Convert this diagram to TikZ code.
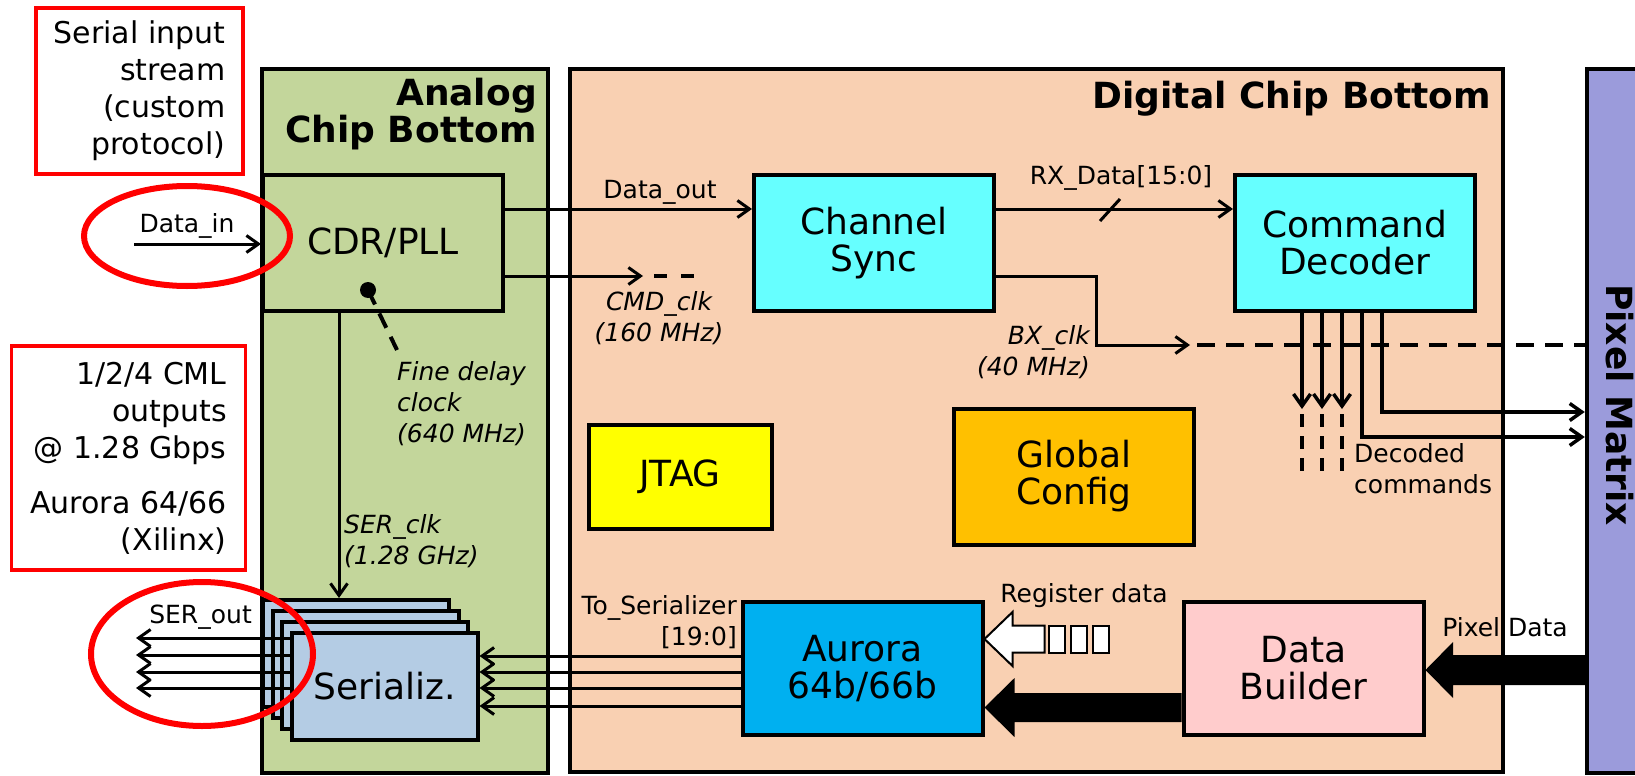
\documentclass[tikz,border=0pt]{standalone}
\usepackage{fontspec}
\setmainfont{DejaVu Sans}
\usepackage{xcolor}
\usetikzlibrary{arrows.meta,shapes.geometric}

\definecolor{analogbg}{HTML}{C3D69B}
\definecolor{digitalbg}{HTML}{F9D0B2}
\definecolor{pixelbg}{HTML}{9B9BDB}
\definecolor{syncfill}{HTML}{66FFFF}
\definecolor{jtagfill}{HTML}{FFFF00}
\definecolor{configfill}{HTML}{FFC000}
\definecolor{aurorafill}{HTML}{00B0F0}
\definecolor{builderfill}{HTML}{FFCCCC}
\definecolor{serfill}{HTML}{B4CCE4}
\definecolor{notered}{HTML}{FF0000}

\tikzset{
  chip/.style={rectangle, draw=black, line width=4.5pt, inner sep=0pt},
  chiptitle/.style={font=\fontsize{36}{37}\selectfont\bfseries, inner sep=0pt, align=right},
  blockbox/.style={rectangle, draw=black, line width=4pt, minimum width=240pt, minimum height=136pt, inner sep=2pt, align=center, font=\fontsize{36}{37}\selectfont},
  serbox/.style={rectangle, draw=black, line width=4pt, fill=serfill, minimum width=186pt, minimum height=107pt, inner sep=2pt, font=\fontsize{36}{37}\selectfont},
  note/.style={rectangle, draw=notered, line width=3.5pt, inner sep=0pt, align=right, font=\fontsize{30}{37}\selectfont},
  ring/.style={ellipse, draw=notered, line width=6pt, inner sep=0pt},
  sig/.style={line width=3pt, -{Straight Barb[length=12pt,width=17pt]}},
  wire/.style={line width=3pt},
  dashline/.style={line width=4pt, dash pattern=on 18pt off 11pt},
  shortdash/.style={line width=3.5pt, dash pattern=on 13pt off 9pt},
  lab/.style={font=\fontsize{25}{31}\selectfont, inner sep=0pt},
  clklab/.style={lab, font=\fontsize{25}{31}\selectfont\itshape},
}

\begin{document}
\begin{tikzpicture}[x=1pt, y=-1pt]

\useasboundingbox (0,0) rectangle (1635,776);
\fill[white] (0,0) rectangle (1635,776);

% Chip regions
\node[chip, fill=analogbg, minimum width=286pt, minimum height=704pt] (analog) at (405,421) {};
\node[chip, fill=digitalbg, minimum width=933pt, minimum height=703pt] (digital) at (1036.5,420.5) {};
\node[chip, fill=pixelbg, minimum width=100pt, minimum height=704pt] (pixmat) at (1637,421) {};

\node[chiptitle, anchor=north east] (analogtitle) at (537,78) {Analog\\Chip Bottom};
\node[chiptitle, anchor=north east] (digitaltitle) at (1491,81) {Digital Chip Bottom};
\node[chiptitle, rotate=-90, anchor=base] (pixtitle) at (1606,405) {Pixel Matrix};

% Notes on the left
\node[note, minimum width=207pt, minimum height=166pt] (innote) at (139.5,91) {Serial input\\stream\\(custom\\protocol)};
\node[note, minimum width=234pt, minimum height=224pt] (outnote) at (128.5,458) {1/2/4 CML\\outputs\\@ 1.28 Gbps\\[18pt]Aurora 64/66\\(Xilinx)};

% Blocks
\node[blockbox, fill=analogbg] (cdr) at (383,243) {CDR/PLL};
\node[blockbox, fill=syncfill] (chsync) at (874,243) {Channel\\Sync};
\node[blockbox, fill=syncfill] (cmddec) at (1355,243) {Command\\Decoder};
\node[blockbox, fill=jtagfill, minimum width=183pt, minimum height=104pt] (jtag) at (680,477) {JTAG};
\node[blockbox, fill=configfill] (gcfg) at (1074,476.5) {Global\\Config};
\node[blockbox, fill=aurorafill, minimum height=133pt] (aurora) at (862.5,668.5) {Aurora\\64b/66b};
\node[blockbox, fill=builderfill, minimum height=133pt] (dbuild) at (1303.5,668.5) {Data\\Builder};

% Serializer stack
\foreach \i in {1,2,3}
  \node[serbox] (ser\i) at ({356+9.5*(\i-1)}, {653.5+11*(\i-1)}) {};
\node[serbox] (ser4) at (384.5,686.5) {Serializ.};

% Input side
\coordinate (dinsrc) at (134,244);
\draw[sig] (dinsrc) -- (cdr.west |- dinsrc);
\node[lab, anchor=base] (dinlab) at (187,232) {Data\_in};

% Data path to the decoder
\draw[sig] (cdr.east |- 0,209) -- (chsync.west |- 0,209);
\node[lab, anchor=base] (doutlab) at (660,198) {Data\_out};
\draw[sig] (chsync.east |- 0,209) -- (cmddec.west |- 0,209);
\draw[wire] (1100,221) -- (1120,199);
\node[lab, anchor=base] (rxlab) at (1121,184) {RX\_Data[15:0]};

% Clocks
\coordinate (cmdtip) at (643,276);
\draw[sig] (cdr.east |- cmdtip) -- (cmdtip);
\draw[dashline, dash pattern=on 13pt off 14pt] ([xshift=11pt]cmdtip) -- ++(40,0);
\node[clklab, align=center] (cmdlab) at (659,318.5) {CMD\_clk\\(160 MHz)};

\coordinate (bxbend) at (1096,345);
\coordinate (bxtip) at (1190,345);
\draw[sig] (chsync.east |- 0,276) -| (bxbend) -- (bxtip);
\draw[dashline] ([xshift=7pt]bxtip) -- (pixmat.west |- bxtip);
\node[clklab, align=right, anchor=east] (bxlab) at (1090,352) {BX\_clk\\(40 MHz)};

\coordinate (fdtap) at (368,290);
\fill (fdtap) circle (8pt);
\draw[dashline, dash pattern=on 16pt off 10pt] (fdtap) -- (397,350);
\node[clklab, align=left, anchor=west] (fdlab) at (397,404) {Fine delay\\clock\\(640 MHz)};

\draw[sig] (cdr.south -| 339,0) -- (ser1.north -| 339,0);
\node[clklab, align=left, anchor=west] (serclklab) at (344,541) {SER\_clk\\(1.28 GHz)};

% Decoded commands
\foreach \x in {1302,1322,1342} {
  \draw[sig, line width=3.5pt] (cmddec.south -| \x,0) -- ++(0,96);
  \draw[shortdash] (cmddec.south -| \x,0) ++(0,101) -- ++(0,60);
}
\draw[sig, line width=3.5pt] (cmddec.south -| 1382,0) |- (pixmat.west |- 0,412);
\draw[sig, line width=3.5pt] (cmddec.south -| 1362,0) |- (pixmat.west |- 0,437);
\node[lab, align=left, anchor=west] (declab) at (1354,469) {Decoded\\commands};

% Serial outputs
\coordinate (outend) at (136,0);
\foreach \y in {638,655,672,688}
  \draw[sig] (ser4.west |- 0,\y) -- (outend |- 0,\y);
\node[lab, anchor=base east] (seroutlab) at (252,623) {SER\_out};

\foreach \y in {656,672,688,706}
  \draw[sig] (aurora.west |- 0,\y) -- (ser4.east |- 0,\y);
\node[lab, align=right, anchor=east] (toserlab) at (737,622) {To\_Serializer\\{[19:0]}};

% Register data (hollow arrow)
\coordinate (regtip) at (aurora.east |- 0,639);
\filldraw[fill=white, draw=black, line width=2pt] (regtip) -- ++(28,-27) -- ++(0,13.5) -- ++(32,0) -- ++(0,27) -- ++(-32,0) -- ++(0,13.5) -- cycle;
\foreach \x in {1049,1071,1093}
  \draw[line width=2pt, fill=white] (\x,625.5) rectangle ++(16,27);
\node[lab, anchor=base] (reglab) at (1084,602) {Register data};

% Pixel data bus
\fill (aurora.east |- 0,707.5) -- ++(30,-29.5) -- ++(0,15) -- (dbuild.west |- 0,693) -- (dbuild.west |- 0,722) -- (1014.5,722) -- ++(0,15) -- cycle;
\fill (dbuild.east |- 0,670) -- ++(27.5,-28) -- ++(0,13) -- (pixmat.west |- 0,655) -- (pixmat.west |- 0,685) -- (1453,685) -- ++(0,13) -- cycle;
\node[lab, anchor=base] (pixlab) at (1505,636) {Pixel Data};

% Highlight rings
\node[ring, minimum width=206pt, minimum height=100pt] (ringin) at (187,236) {};
\node[ring, minimum width=222pt, minimum height=144pt] (ringout) at (202,654) {};

\end{tikzpicture}
\end{document}
